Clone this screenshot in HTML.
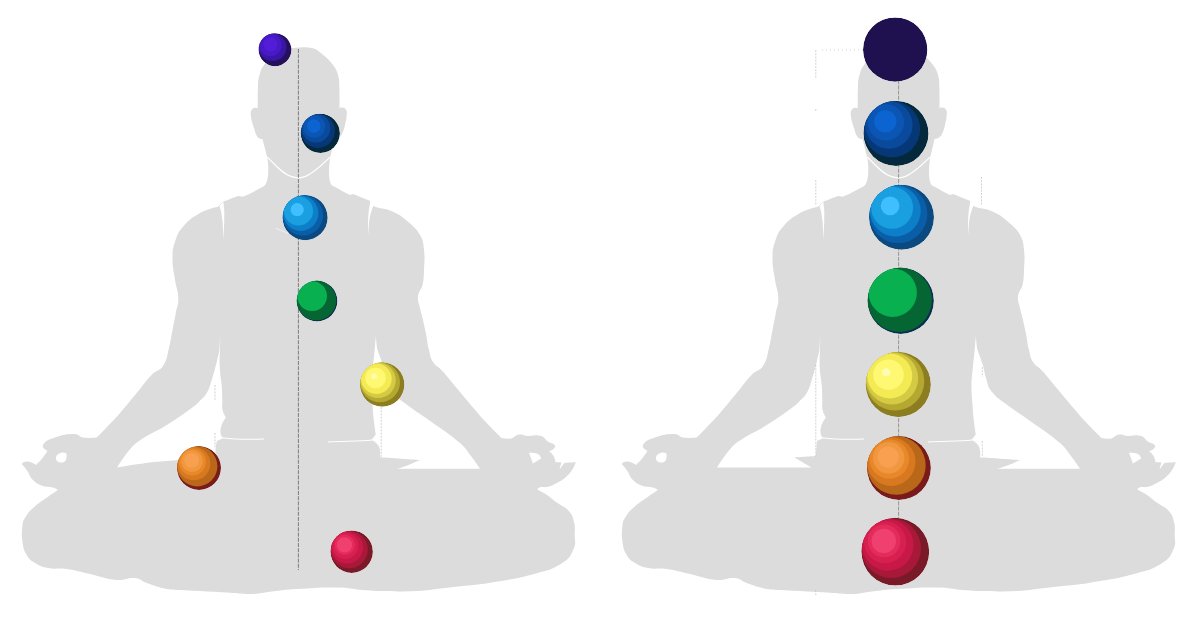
<!DOCTYPE html><html><head><meta charset="utf-8"><title>Chakra alignment</title><style>html,body{margin:0;padding:0;background:#fff;overflow:hidden}svg{display:block}</style></head><body><svg width="1200" height="629" viewBox="0 0 1200 629"><rect width="1200" height="629" fill="#fff"/><g transform="translate(0,0)"><path d="M293.0 48.0 C301.5 47.8 303.6 46.3 312.0 48.0 C317.1 49.1 317.9 50.7 322.0 54.0 C327.4 58.4 328.8 59.4 333.0 65.0 C336.0 69.0 336.6 70.2 338.0 75.0 C339.4 79.8 339.1 81.0 339.3 86.0 C339.7 95.9 339.5 108.0 339.5 108.0 C339.5 108.0 340.9 107.3 342.0 107.5 C343.7 107.8 344.5 107.6 345.5 109.0 C346.9 110.9 346.8 111.7 346.7 114.0 C346.5 119.0 346.1 120.1 345.0 125.0 C344.0 129.2 343.8 130.2 342.0 134.0 C341.1 135.9 340.7 136.3 339.0 137.5 C337.2 138.7 334.5 139.0 334.5 139.0 C334.5 139.0 330.5 156.7 330.5 156.7 C330.5 156.7 327.5 171.1 330.0 181.7 C331.1 186.3 334.1 185.9 338.0 188.5 C343.1 191.9 350.0 195.0 350.0 195.0 C350.0 195.0 353.0 194.0 353.0 194.0 C353.0 194.0 370.0 200.8 370.0 200.8 C370.0 200.8 370.6 204.7 373.0 205.8 C380.7 209.4 384.5 207.8 393.0 211.7 C400.4 215.1 401.9 216.4 408.0 221.7 C414.1 227.0 416.0 228.0 420.0 235.0 C423.4 241.1 423.2 243.1 424.0 250.0 C425.0 258.9 424.4 261.0 424.0 270.0 C423.7 276.8 424.0 278.4 422.5 285.0 C421.3 290.2 418.6 290.7 418.0 296.0 C417.4 301.4 418.9 302.6 420.0 308.0 C421.1 313.4 421.7 314.6 423.0 320.0 C424.4 326.3 424.7 327.7 426.0 334.0 C427.4 341.2 427.2 342.9 429.0 350.0 C430.4 355.5 430.0 357.2 433.0 362.0 C436.0 366.7 438.2 366.4 442.0 370.5 C445.8 374.6 446.4 375.7 450.0 380.0 C457.5 389.0 459.1 391.0 466.7 400.0 C474.0 408.6 475.4 410.7 483.0 419.0 C491.1 427.8 501.5 438.0 501.5 438.0 C501.5 438.0 506.9 439.3 511.2 438.4 C515.0 437.6 515.1 435.1 519.0 434.5 C523.0 433.9 523.8 435.7 527.9 436.0 C533.9 436.4 535.4 434.4 541.2 436.0 C545.0 437.1 544.7 439.5 548.0 441.7 C550.8 443.6 552.8 442.6 554.6 445.0 C555.7 446.5 554.8 447.6 553.5 449.0 C552.0 450.6 549.0 451.0 549.0 451.0 C549.0 451.0 552.0 453.4 553.5 456.0 C555.0 458.6 555.7 462.3 555.7 462.3 C555.7 462.3 561.3 462.3 561.3 462.3 C561.3 462.3 559.6 469.5 559.6 469.5 C559.6 469.5 564.6 462.8 564.6 462.8 C564.6 462.8 575.8 462.3 575.8 462.3 C575.8 462.3 574.4 466.5 572.4 469.5 C569.8 473.3 569.2 474.3 565.7 477.3 C562.1 480.4 561.0 480.8 556.8 483.0 C553.0 485.0 552.2 485.7 548.0 486.8 C544.5 487.7 543.5 486.4 540.0 487.3 C538.5 487.7 537.3 489.6 537.3 489.6 C537.3 489.6 542.8 492.2 547.0 495.0 C551.3 497.8 551.9 499.0 556.0 502.0 C561.7 506.2 564.1 505.8 568.8 511.0 C572.5 515.1 572.7 516.7 574.0 522.0 C575.4 527.7 574.7 529.1 574.7 535.0 C574.7 540.9 576.3 542.6 574.0 548.0 C570.8 555.5 569.8 558.0 563.0 562.5 C552.0 569.8 548.5 570.0 535.8 573.5 C515.5 579.1 510.7 579.3 490.0 582.7 C473.5 585.4 469.7 585.1 453.0 587.0 C436.7 588.8 433.1 590.1 416.7 591.0 C400.2 591.9 396.5 591.3 380.0 591.0 C372.3 590.9 370.6 590.6 363.0 590.0 C351.7 589.1 349.3 587.7 338.0 587.5 C319.4 587.2 315.3 587.9 296.7 589.0 C284.6 589.7 282.0 590.3 270.0 591.7 C262.3 592.6 260.7 593.7 253.0 594.0 C244.0 594.3 242.0 593.5 233.0 593.0 C224.0 592.5 222.0 592.2 213.0 591.7 C198.2 590.9 194.8 590.9 180.0 590.0 C174.0 589.7 172.6 590.2 166.7 589.0 C157.5 587.1 155.6 586.1 146.7 583.0 C141.3 581.1 140.7 578.6 135.0 578.0 C126.8 577.2 125.0 580.7 116.7 580.0 C104.4 578.9 102.0 576.6 90.0 574.0 C79.5 571.7 77.3 570.5 66.7 569.0 C58.4 567.8 56.3 569.6 48.0 568.0 C41.8 566.8 40.4 566.3 35.0 563.0 C30.6 560.3 29.3 559.5 26.7 555.0 C23.5 549.6 23.4 547.9 22.5 541.7 C21.5 534.3 21.7 532.5 22.5 525.0 C22.9 521.7 23.2 520.8 25.0 518.0 C28.0 513.1 28.8 511.9 33.0 508.0 C39.2 502.3 41.1 501.6 48.0 496.7 C52.4 493.5 58.0 490.0 58.0 490.0 C58.0 490.0 55.4 488.1 53.0 487.5 C48.6 486.3 47.3 487.6 43.0 486.0 C38.1 484.2 36.7 483.7 33.0 480.0 C29.2 476.3 29.8 474.3 26.7 470.0 C24.7 467.1 21.7 464.0 21.7 464.0 C21.7 464.0 23.2 462.0 25.0 461.7 C28.0 461.2 28.8 461.6 31.7 462.5 C33.8 463.1 36.0 465.0 36.0 465.0 C36.0 465.0 39.3 461.9 41.7 459.0 C44.5 455.6 47.5 451.0 47.5 451.0 C47.5 451.0 41.4 448.0 43.0 445.0 C45.5 440.5 49.0 439.6 55.0 437.5 C63.6 434.5 65.9 434.0 75.0 434.0 C78.9 434.0 79.1 436.9 83.0 437.5 C89.1 438.5 96.7 437.5 96.7 437.5 C96.7 437.5 108.0 426.4 116.7 416.7 C126.0 406.3 127.7 403.7 136.7 393.0 C143.6 384.7 144.5 382.2 152.0 374.5 C156.4 370.0 159.6 371.3 163.0 366.0 C167.6 358.8 166.8 356.3 169.0 348.0 C171.1 340.0 170.9 338.1 172.5 330.0 C174.0 322.4 174.4 320.7 175.8 313.0 C177.0 306.3 178.5 304.8 178.3 298.0 C178.1 289.8 176.2 288.1 175.0 280.0 C173.6 270.1 172.5 268.0 172.5 258.0 C172.5 250.6 172.6 248.7 175.0 241.7 C177.4 234.4 178.0 232.5 183.0 226.7 C189.5 219.3 191.5 217.9 200.0 213.0 C207.5 208.7 218.0 206.7 218.0 206.7 C218.0 206.7 223.0 201.7 223.0 201.7 C223.0 201.7 238.0 196.0 238.0 196.0 C238.0 196.0 242.5 196.7 242.5 196.7 C242.5 196.7 250.7 193.7 256.7 190.0 C261.7 186.9 264.9 187.3 266.7 181.7 C270.1 171.1 267.2 157.0 267.2 157.0 C267.2 157.0 262.5 139.0 262.5 139.0 C262.5 139.0 259.3 139.2 258.0 137.5 C255.2 133.8 255.4 132.4 254.0 128.0 C252.2 122.3 251.4 121.0 250.8 115.0 C250.5 112.5 250.7 111.7 252.0 109.5 C252.8 108.2 253.5 108.1 255.0 107.8 C256.3 107.6 257.8 108.5 257.8 108.5 C257.8 108.5 257.5 96.1 258.0 86.0 C258.3 81.0 258.1 79.8 259.5 75.0 C260.9 70.3 261.1 69.0 264.0 65.0 C268.2 59.4 269.5 58.3 275.0 54.0 C279.0 50.8 280.1 50.1 285.0 48.5 C288.4 47.4 289.4 48.1 293.0 48.0Z" fill="#dcdcdc"/><path d="M220.3 333.0 C220.3 333.0 220.2 342.4 220.0 350.0 C219.9 355.4 219.5 356.6 219.6 362.0 C219.7 367.9 219.9 369.2 220.4 375.0 C220.8 379.5 221.4 380.5 221.7 385.0 C222.2 391.7 222.1 393.2 222.3 400.0 C222.5 404.5 221.7 405.6 222.6 410.0 C223.3 413.6 225.8 417.5 225.8 417.5 C225.8 417.5 222.4 422.1 221.2 426.5 C220.2 430.2 220.2 431.2 221.0 435.0 C221.3 436.7 223.5 438.0 223.5 438.0 C223.5 438.0 217.0 441.0 217.0 441.0 C217.0 441.0 216.1 444.0 215.8 446.5 C215.4 450.3 215.5 455.0 215.5 455.0 C215.5 455.0 194.6 458.0 177.5 460.0 C165.2 461.4 162.3 461.0 150.0 462.5 C135.1 464.3 117.0 467.5 117.0 467.5 C117.0 467.5 122.5 458.4 128.0 451.7 C132.0 446.8 132.8 445.3 138.0 441.7 C150.3 433.2 154.0 432.9 166.7 425.0 C178.2 417.8 180.7 416.0 191.7 408.0 C195.6 405.2 196.3 404.4 199.7 401.0 C203.1 397.6 204.3 397.2 206.7 393.0 C209.8 387.6 209.8 386.0 211.7 380.0 C214.3 372.0 214.6 370.1 216.7 362.0 C218.1 356.6 219.5 350.0 219.5 350.0 C219.5 350.0 220.3 333.0 220.3 333.0Z" fill="#fff"/><path d="M375.8 336.0 C375.8 336.0 375.2 344.8 374.5 352.0 C373.9 358.2 373.6 359.6 373.0 365.8 C372.2 374.8 371.6 376.8 371.5 385.8 C371.4 394.5 371.9 396.4 372.5 405.0 C373.0 411.8 373.0 413.3 373.8 420.0 C374.5 426.5 375.8 434.5 375.8 434.5 C375.8 434.5 371.5 440.0 371.5 440.0 C371.5 440.0 376.8 442.2 378.7 446.0 C381.0 450.6 380.0 457.4 380.0 457.4 C380.0 457.4 383.0 457.4 383.0 457.4 C383.0 457.4 420.0 460.0 420.0 460.0 C420.0 460.0 412.4 463.6 406.0 466.0 C402.0 467.5 397.0 468.8 397.0 468.8 C397.0 468.8 480.0 468.8 480.0 468.8 C480.0 468.8 475.3 461.6 471.0 456.0 C466.3 449.9 465.8 448.0 460.0 443.0 C446.7 431.7 442.9 430.2 428.7 420.0 C419.8 413.6 417.4 412.7 408.7 406.0 C400.7 399.9 397.9 399.4 391.6 391.6 C387.4 386.5 388.1 384.3 386.0 378.0 C384.2 372.6 384.7 371.2 383.0 365.8 C380.6 358.0 377.0 348.6 377.0 348.6 C377.0 348.6 375.8 336.0 375.8 336.0Z" fill="#fff"/><path d="M57.0 455.0 C57.0 455.0 59.5 452.9 62.0 452.5 C64.0 452.2 66.5 453.5 66.5 453.5 C66.5 453.5 67.1 457.3 66.0 460.0 C65.4 461.6 63.0 462.5 63.0 462.5 C63.0 462.5 60.3 462.9 58.5 462.0 C56.9 461.2 56.4 460.7 56.0 459.0 C55.6 457.2 57.0 455.0 57.0 455.0Z" fill="#fff"/><path d="M529.0 452.8 C529.0 452.8 534.2 452.3 537.9 454.0 C540.1 455.0 541.2 458.4 541.2 458.4 C541.2 458.4 532.9 463.4 532.9 463.4 C532.9 463.4 529.0 452.8 529.0 452.8Z" fill="#fff"/><path d="M267.3 157 C275 165 283 174 291.7 176.7 C296 178.2 302 178 306.7 175.8 C316 171 324 163 330.6 156.7" fill="none" stroke="#fff" stroke-width="1.3"/><path d="M219.5 206 L223.4 201.8 L224.3 211 L224.2 222 L223.4 239.5 L222.6 222 L221 211Z" fill="#fff"/><path d="M370.3 201 L373.4 205.6 L370.5 214 L369 222 L368.4 235.5 L367.9 222 L368.6 212Z" fill="#fff"/><path d="M223 437.7 C235 439.5 250 439.5 264 439" fill="none" stroke="#fff" stroke-width="1.1"/><path d="M372 440 C360 441.5 345 441 328 442" fill="none" stroke="#fff" stroke-width="1.1"/></g><g transform="translate(600,0)"><path d="M293.0 48.0 C301.5 47.8 303.6 46.3 312.0 48.0 C317.1 49.1 317.9 50.7 322.0 54.0 C327.4 58.4 328.8 59.4 333.0 65.0 C336.0 69.0 336.6 70.2 338.0 75.0 C339.4 79.8 339.1 81.0 339.3 86.0 C339.7 95.9 339.5 108.0 339.5 108.0 C339.5 108.0 340.9 107.3 342.0 107.5 C343.7 107.8 344.5 107.6 345.5 109.0 C346.9 110.9 346.8 111.7 346.7 114.0 C346.5 119.0 346.1 120.1 345.0 125.0 C344.0 129.2 343.8 130.2 342.0 134.0 C341.1 135.9 340.7 136.3 339.0 137.5 C337.2 138.7 334.5 139.0 334.5 139.0 C334.5 139.0 330.5 156.7 330.5 156.7 C330.5 156.7 327.5 171.1 330.0 181.7 C331.1 186.3 334.1 185.9 338.0 188.5 C343.1 191.9 350.0 195.0 350.0 195.0 C350.0 195.0 353.0 194.0 353.0 194.0 C353.0 194.0 370.0 200.8 370.0 200.8 C370.0 200.8 370.6 204.7 373.0 205.8 C380.7 209.4 384.5 207.8 393.0 211.7 C400.4 215.1 401.9 216.4 408.0 221.7 C414.1 227.0 416.0 228.0 420.0 235.0 C423.4 241.1 423.2 243.1 424.0 250.0 C425.0 258.9 424.4 261.0 424.0 270.0 C423.7 276.8 424.0 278.4 422.5 285.0 C421.3 290.2 418.6 290.7 418.0 296.0 C417.4 301.4 418.9 302.6 420.0 308.0 C421.1 313.4 421.7 314.6 423.0 320.0 C424.4 326.3 424.7 327.7 426.0 334.0 C427.4 341.2 427.2 342.9 429.0 350.0 C430.4 355.5 430.0 357.2 433.0 362.0 C436.0 366.7 438.2 366.4 442.0 370.5 C445.8 374.6 446.4 375.7 450.0 380.0 C457.5 389.0 459.1 391.0 466.7 400.0 C474.0 408.6 475.4 410.7 483.0 419.0 C491.1 427.8 501.5 438.0 501.5 438.0 C501.5 438.0 506.9 439.3 511.2 438.4 C515.0 437.6 515.1 435.1 519.0 434.5 C523.0 433.9 523.8 435.7 527.9 436.0 C533.9 436.4 535.4 434.4 541.2 436.0 C545.0 437.1 544.7 439.5 548.0 441.7 C550.8 443.6 552.8 442.6 554.6 445.0 C555.7 446.5 554.8 447.6 553.5 449.0 C552.0 450.6 549.0 451.0 549.0 451.0 C549.0 451.0 552.0 453.4 553.5 456.0 C555.0 458.6 555.7 462.3 555.7 462.3 C555.7 462.3 561.3 462.3 561.3 462.3 C561.3 462.3 559.6 469.5 559.6 469.5 C559.6 469.5 564.6 462.8 564.6 462.8 C564.6 462.8 575.8 462.3 575.8 462.3 C575.8 462.3 574.4 466.5 572.4 469.5 C569.8 473.3 569.2 474.3 565.7 477.3 C562.1 480.4 561.0 480.8 556.8 483.0 C553.0 485.0 552.2 485.7 548.0 486.8 C544.5 487.7 543.5 486.4 540.0 487.3 C538.5 487.7 537.3 489.6 537.3 489.6 C537.3 489.6 542.8 492.2 547.0 495.0 C551.3 497.8 551.9 499.0 556.0 502.0 C561.7 506.2 564.1 505.8 568.8 511.0 C572.5 515.1 572.7 516.7 574.0 522.0 C575.4 527.7 574.7 529.1 574.7 535.0 C574.7 540.9 576.3 542.6 574.0 548.0 C570.8 555.5 569.8 558.0 563.0 562.5 C552.0 569.8 548.5 570.0 535.8 573.5 C515.5 579.1 510.7 579.3 490.0 582.7 C473.5 585.4 469.7 585.1 453.0 587.0 C436.7 588.8 433.1 590.1 416.7 591.0 C400.2 591.9 396.5 591.3 380.0 591.0 C372.3 590.9 370.6 590.6 363.0 590.0 C351.7 589.1 349.3 587.7 338.0 587.5 C319.4 587.2 315.3 587.9 296.7 589.0 C284.6 589.7 282.0 590.3 270.0 591.7 C262.3 592.6 260.7 593.7 253.0 594.0 C244.0 594.3 242.0 593.5 233.0 593.0 C224.0 592.5 222.0 592.2 213.0 591.7 C198.2 590.9 194.8 590.9 180.0 590.0 C174.0 589.7 172.6 590.2 166.7 589.0 C157.5 587.1 155.6 586.1 146.7 583.0 C141.3 581.1 140.7 578.6 135.0 578.0 C126.8 577.2 125.0 580.7 116.7 580.0 C104.4 578.9 102.0 576.6 90.0 574.0 C79.5 571.7 77.3 570.5 66.7 569.0 C58.4 567.8 56.3 569.6 48.0 568.0 C41.8 566.8 40.4 566.3 35.0 563.0 C30.6 560.3 29.3 559.5 26.7 555.0 C23.5 549.6 23.4 547.9 22.5 541.7 C21.5 534.3 21.7 532.5 22.5 525.0 C22.9 521.7 23.2 520.8 25.0 518.0 C28.0 513.1 28.8 511.9 33.0 508.0 C39.2 502.3 41.1 501.6 48.0 496.7 C52.4 493.5 58.0 490.0 58.0 490.0 C58.0 490.0 55.4 488.1 53.0 487.5 C48.6 486.3 47.3 487.6 43.0 486.0 C38.1 484.2 36.7 483.7 33.0 480.0 C29.2 476.3 29.8 474.3 26.7 470.0 C24.7 467.1 21.7 464.0 21.7 464.0 C21.7 464.0 23.2 462.0 25.0 461.7 C28.0 461.2 28.8 461.6 31.7 462.5 C33.8 463.1 36.0 465.0 36.0 465.0 C36.0 465.0 39.3 461.9 41.7 459.0 C44.5 455.6 47.5 451.0 47.5 451.0 C47.5 451.0 41.4 448.0 43.0 445.0 C45.5 440.5 49.0 439.6 55.0 437.5 C63.6 434.5 65.9 434.0 75.0 434.0 C78.9 434.0 79.1 436.9 83.0 437.5 C89.1 438.5 96.7 437.5 96.7 437.5 C96.7 437.5 108.0 426.4 116.7 416.7 C126.0 406.3 127.7 403.7 136.7 393.0 C143.6 384.7 144.5 382.2 152.0 374.5 C156.4 370.0 159.6 371.3 163.0 366.0 C167.6 358.8 166.8 356.3 169.0 348.0 C171.1 340.0 170.9 338.1 172.5 330.0 C174.0 322.4 174.4 320.7 175.8 313.0 C177.0 306.3 178.5 304.8 178.3 298.0 C178.1 289.8 176.2 288.1 175.0 280.0 C173.6 270.1 172.5 268.0 172.5 258.0 C172.5 250.6 172.6 248.7 175.0 241.7 C177.4 234.4 178.0 232.5 183.0 226.7 C189.5 219.3 191.5 217.9 200.0 213.0 C207.5 208.7 218.0 206.7 218.0 206.7 C218.0 206.7 223.0 201.7 223.0 201.7 C223.0 201.7 238.0 196.0 238.0 196.0 C238.0 196.0 242.5 196.7 242.5 196.7 C242.5 196.7 250.7 193.7 256.7 190.0 C261.7 186.9 264.9 187.3 266.7 181.7 C270.1 171.1 267.2 157.0 267.2 157.0 C267.2 157.0 262.5 139.0 262.5 139.0 C262.5 139.0 259.3 139.2 258.0 137.5 C255.2 133.8 255.4 132.4 254.0 128.0 C252.2 122.3 251.4 121.0 250.8 115.0 C250.5 112.5 250.7 111.7 252.0 109.5 C252.8 108.2 253.5 108.1 255.0 107.8 C256.3 107.6 257.8 108.5 257.8 108.5 C257.8 108.5 257.5 96.1 258.0 86.0 C258.3 81.0 258.1 79.8 259.5 75.0 C260.9 70.3 261.1 69.0 264.0 65.0 C268.2 59.4 269.5 58.3 275.0 54.0 C279.0 50.8 280.1 50.1 285.0 48.5 C288.4 47.4 289.4 48.1 293.0 48.0Z" fill="#dcdcdc"/><path d="M220.3 333.0 C220.3 333.0 220.2 342.4 220.0 350.0 C219.9 355.4 219.5 356.6 219.6 362.0 C219.7 367.9 219.9 369.2 220.4 375.0 C220.8 379.5 221.4 380.5 221.7 385.0 C222.2 391.7 222.1 393.2 222.3 400.0 C222.5 404.5 221.7 405.6 222.6 410.0 C223.3 413.6 225.8 417.5 225.8 417.5 C225.8 417.5 222.4 422.1 221.2 426.5 C220.2 430.2 220.2 431.2 221.0 435.0 C221.3 436.7 223.5 438.0 223.5 438.0 C223.5 438.0 217.0 441.0 217.0 441.0 C217.0 441.0 215.9 456.0 215.9 456.0 C215.9 456.0 194.4 457.4 194.4 457.4 C194.4 457.4 211.6 467.4 211.6 467.4 C211.6 467.4 117.0 467.4 117.0 467.4 C117.0 467.4 122.5 458.4 128.0 451.7 C132.0 446.8 132.8 445.3 138.0 441.7 C150.3 433.2 154.0 432.9 166.7 425.0 C178.2 417.8 180.7 416.0 191.7 408.0 C195.6 405.2 196.3 404.4 199.7 401.0 C203.1 397.6 204.3 397.2 206.7 393.0 C209.8 387.6 209.8 386.0 211.7 380.0 C214.3 372.0 214.6 370.1 216.7 362.0 C218.1 356.6 219.5 350.0 219.5 350.0 C219.5 350.0 220.3 333.0 220.3 333.0Z" fill="#fff"/><path d="M375.8 336.0 C375.8 336.0 375.2 344.8 374.5 352.0 C373.9 358.2 373.6 359.6 373.0 365.8 C372.2 374.8 371.6 376.8 371.5 385.8 C371.4 394.5 371.9 396.4 372.5 405.0 C373.0 411.8 373.0 413.3 373.8 420.0 C374.5 426.5 375.8 434.5 375.8 434.5 C375.8 434.5 371.5 440.0 371.5 440.0 C371.5 440.0 376.8 442.2 378.7 446.0 C381.0 450.6 380.0 457.4 380.0 457.4 C380.0 457.4 383.0 457.4 383.0 457.4 C383.0 457.4 420.0 460.0 420.0 460.0 C420.0 460.0 412.4 463.6 406.0 466.0 C402.0 467.5 397.0 468.8 397.0 468.8 C397.0 468.8 480.0 468.8 480.0 468.8 C480.0 468.8 475.3 461.6 471.0 456.0 C466.3 449.9 465.8 448.0 460.0 443.0 C446.7 431.7 442.9 430.2 428.7 420.0 C419.8 413.6 417.4 412.7 408.7 406.0 C400.7 399.9 397.9 399.4 391.6 391.6 C387.4 386.5 388.1 384.3 386.0 378.0 C384.2 372.6 384.7 371.2 383.0 365.8 C380.6 358.0 377.0 348.6 377.0 348.6 C377.0 348.6 375.8 336.0 375.8 336.0Z" fill="#fff"/><path d="M57.0 455.0 C57.0 455.0 59.5 452.9 62.0 452.5 C64.0 452.2 66.5 453.5 66.5 453.5 C66.5 453.5 67.1 457.3 66.0 460.0 C65.4 461.6 63.0 462.5 63.0 462.5 C63.0 462.5 60.3 462.9 58.5 462.0 C56.9 461.2 56.4 460.7 56.0 459.0 C55.6 457.2 57.0 455.0 57.0 455.0Z" fill="#fff"/><path d="M529.0 452.8 C529.0 452.8 534.2 452.3 537.9 454.0 C540.1 455.0 541.2 458.4 541.2 458.4 C541.2 458.4 532.9 463.4 532.9 463.4 C532.9 463.4 529.0 452.8 529.0 452.8Z" fill="#fff"/><path d="M267.3 157 C275 165 283 174 291.7 176.7 C296 178.2 302 178 306.7 175.8 C316 171 324 163 330.6 156.7" fill="none" stroke="#fff" stroke-width="1.3"/><path d="M219.5 206 L223.4 201.8 L224.3 211 L224.2 222 L223.4 239.5 L222.6 222 L221 211Z" fill="#fff"/><path d="M370.3 201 L373.4 205.6 L370.5 214 L369 222 L368.4 235.5 L367.9 222 L368.6 212Z" fill="#fff"/><path d="M223 437.7 C235 439.5 250 439.5 264 439" fill="none" stroke="#fff" stroke-width="1.1"/><path d="M372 440 C360 441.5 345 441 328 442" fill="none" stroke="#fff" stroke-width="1.1"/></g><line x1="298.4" y1="49" x2="298.4" y2="570" stroke="#555" stroke-width="0.7" stroke-dasharray="4 1.2"/><line x1="898.6" y1="49" x2="898.6" y2="570" stroke="#777" stroke-width="0.7" stroke-dasharray="4 1.2"/><g stroke="#b4b4b4" stroke-width="0.6" stroke-dasharray="2 1.2" fill="none"><path d="M815.8 50V79M815.8 109V111M815.8 180V205M815.8 365V457M815.8 590V596M981.5 177V205M982.3 367V377M982.3 441V456M215 385V400M215 433V447M381.2 407V457"/><path d="M822 50H863" stroke-dasharray="1 3"/></g><path d="M275.8 228.3L288.5 233.5" stroke="#f4f4f4" stroke-width="0.9" fill="none"/><clipPath id="c1"><circle cx="275.0" cy="49.7" r="16.5"/></clipPath><g clip-path="url(#c1)"><circle cx="275.0" cy="49.7" r="16.5" fill="#26105c"/><circle cx="272.5" cy="47.2" r="13.9" fill="#3a16a8"/><circle cx="270.4" cy="45.1" r="11.1" fill="#471ac4"/><circle cx="270.5" cy="44.6" r="7.1" fill="#521cd8"/></g><clipPath id="c2"><circle cx="320.3" cy="133.3" r="19.6"/></clipPath><g clip-path="url(#c2)"><circle cx="320.3" cy="133.3" r="19.6" fill="#04283c"/><circle cx="317.8" cy="130.8" r="17.1" fill="#063878"/><circle cx="316.0" cy="128.2" r="14.3" fill="#0a4a9c"/><circle cx="314.2" cy="126.6" r="11.0" fill="#0b56b4"/><circle cx="313.8" cy="126.0" r="6.7" fill="#0c64d0"/></g><clipPath id="c3"><circle cx="305.1" cy="217.6" r="22.6"/></clipPath><g clip-path="url(#c3)"><circle cx="305.1" cy="217.6" r="22.6" fill="#0a4a80"/><circle cx="302.8" cy="215.3" r="20.3" fill="#0a5ea8"/><circle cx="300.8" cy="213.3" r="17.6" fill="#0d7fc8"/><circle cx="298.5" cy="211.0" r="14.6" fill="#1a9fe0"/><circle cx="297.2" cy="209.7" r="6.6" fill="#40bfff"/></g><clipPath id="c4"><circle cx="317.0" cy="301.0" r="20.4"/></clipPath><g clip-path="url(#c4)"><circle cx="317.0" cy="301.0" r="20.4" fill="#0a3050"/><circle cx="316.4" cy="300.4" r="19.8" fill="#056634"/><circle cx="312.1" cy="296.1" r="14.9" fill="#08b050"/></g><clipPath id="c5"><circle cx="382.2" cy="384.5" r="22.2"/></clipPath><g clip-path="url(#c5)"><circle cx="382.2" cy="384.5" r="22.2" fill="#8c7e20"/><circle cx="380.0" cy="382.3" r="20.0" fill="#b4a830"/><circle cx="378.0" cy="380.3" r="17.8" fill="#d4ca44"/><circle cx="376.4" cy="378.7" r="15.3" fill="#f4ea54"/><circle cx="375.5" cy="377.8" r="10.4" fill="#fff872"/><circle cx="374.0" cy="376.3" r="2.9" fill="#fffbb0"/></g><clipPath id="c6"><circle cx="199.0" cy="468.0" r="22.0"/></clipPath><g clip-path="url(#c6)"><circle cx="199.0" cy="468.0" r="22.0" fill="#7a1a1a"/><circle cx="197.2" cy="466.2" r="20.2" fill="#b86818"/><circle cx="193.7" cy="463.6" r="16.7" fill="#d87820"/><circle cx="192.4" cy="461.8" r="13.6" fill="#e88828"/><circle cx="192.0" cy="461.0" r="10.8" fill="#f09840"/><circle cx="191.7" cy="460.5" r="7.3" fill="#f8a050"/></g><clipPath id="c7"><circle cx="351.7" cy="551.7" r="21.2"/></clipPath><g clip-path="url(#c7)"><circle cx="351.7" cy="551.7" r="21.2" fill="#7a1a28"/><circle cx="349.2" cy="549.6" r="18.7" fill="#a81838"/><circle cx="347.0" cy="547.5" r="16.1" fill="#c81848"/><circle cx="345.3" cy="545.8" r="13.1" fill="#d82050"/><circle cx="344.7" cy="544.9" r="10.2" fill="#e42c5c"/><circle cx="344.5" cy="544.9" r="7.6" fill="#f04070"/></g><clipPath id="c8"><circle cx="895.2" cy="49.6" r="32.2"/></clipPath><g clip-path="url(#c8)"><circle cx="895.2" cy="49.6" r="32.2" fill="#1f1050"/></g><clipPath id="c9"><circle cx="896.0" cy="133.4" r="32.5"/></clipPath><g clip-path="url(#c9)"><circle cx="896.0" cy="133.4" r="32.5" fill="#04283c"/><circle cx="891.8" cy="129.2" r="28.3" fill="#063878"/><circle cx="888.9" cy="125.0" r="23.7" fill="#0a4a9c"/><circle cx="885.9" cy="122.4" r="18.2" fill="#0b56b4"/><circle cx="885.3" cy="121.4" r="11.1" fill="#0c64d0"/></g><clipPath id="c10"><circle cx="901.5" cy="217.2" r="32.5"/></clipPath><g clip-path="url(#c10)"><circle cx="901.5" cy="217.2" r="32.5" fill="#0a4a80"/><circle cx="898.2" cy="213.9" r="29.2" fill="#0a5ea8"/><circle cx="895.3" cy="211.0" r="25.4" fill="#0d7fc8"/><circle cx="892.1" cy="207.8" r="21.0" fill="#1a9fe0"/><circle cx="890.1" cy="205.8" r="9.4" fill="#40bfff"/></g><clipPath id="c11"><circle cx="900.7" cy="300.7" r="33.2"/></clipPath><g clip-path="url(#c11)"><circle cx="900.7" cy="300.7" r="33.2" fill="#0a3050"/><circle cx="899.7" cy="299.7" r="32.2" fill="#056634"/><circle cx="892.7" cy="292.7" r="24.2" fill="#08b050"/></g><clipPath id="c12"><circle cx="898.3" cy="384.5" r="32.6"/></clipPath><g clip-path="url(#c12)"><circle cx="898.3" cy="384.5" r="32.6" fill="#8c7e20"/><circle cx="895.0" cy="381.2" r="29.3" fill="#b4a830"/><circle cx="892.1" cy="378.3" r="26.1" fill="#d4ca44"/><circle cx="889.8" cy="376.0" r="22.5" fill="#f4ea54"/><circle cx="888.5" cy="374.7" r="15.3" fill="#fff872"/><circle cx="886.2" cy="372.4" r="4.2" fill="#fffbb0"/></g><clipPath id="c13"><circle cx="898.9" cy="468.0" r="32.0"/></clipPath><g clip-path="url(#c13)"><circle cx="898.9" cy="468.0" r="32.0" fill="#7a1a1a"/><circle cx="896.3" cy="465.4" r="29.4" fill="#b86818"/><circle cx="891.2" cy="461.6" r="24.3" fill="#d87820"/><circle cx="889.3" cy="459.0" r="19.8" fill="#e88828"/><circle cx="888.7" cy="457.8" r="15.7" fill="#f09840"/><circle cx="888.3" cy="457.1" r="10.6" fill="#f8a050"/></g><clipPath id="c14"><circle cx="895.3" cy="551.7" r="33.9"/></clipPath><g clip-path="url(#c14)"><circle cx="895.3" cy="551.7" r="33.9" fill="#7a1a28"/><circle cx="891.2" cy="548.3" r="29.8" fill="#a81838"/><circle cx="887.8" cy="544.9" r="25.8" fill="#c81848"/><circle cx="885.1" cy="542.2" r="21.0" fill="#d82050"/><circle cx="884.1" cy="540.9" r="16.3" fill="#e42c5c"/><circle cx="883.8" cy="540.9" r="12.2" fill="#f04070"/></g></svg></body></html>
